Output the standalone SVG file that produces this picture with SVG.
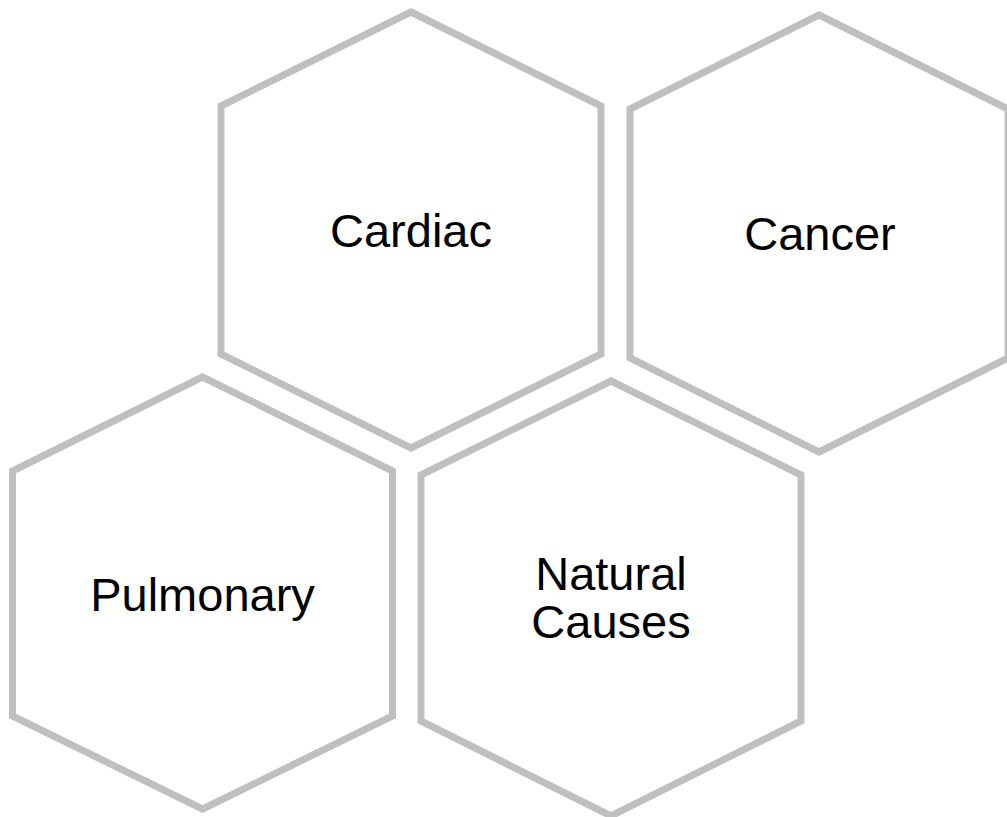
<svg xmlns="http://www.w3.org/2000/svg" width="1007" height="817" viewBox="0 0 1007 817">
<style>
.hex{fill:none;stroke:#BFBFBF;stroke-width:7;stroke-linejoin:miter}
.lbl{font-family:"Liberation Sans",Arial,sans-serif;font-size:47px;fill:#000;text-anchor:middle}
</style>
<rect width="1007" height="817" fill="#fff"/>
<g id="node-cardiac">
<polygon class="hex" points="411,12 601,106 601,354 411,448 221,354 221,106"/>
<text class="lbl" x="411" y="247">Cardiac</text>
</g>
<g id="node-cancer">
<polygon class="hex" points="819,15 1008,109 1008,358 819,452 630,358 630,109"/>
<text class="lbl" x="820" y="250">Cancer</text>
</g>
<g id="node-pulmonary">
<polygon class="hex" points="202.5,377 392.5,471 392.5,716 202.5,809 12.5,716 12.5,471"/>
<text class="lbl" x="202.5" y="611">Pulmonary</text>
</g>
<g id="node-natural">
<polygon class="hex" points="611,381 801,475 801,721 611,816 421,721 421,475"/>
<text class="lbl" x="611" y="590"><tspan x="611">Natural</tspan><tspan x="611" dy="48">Causes</tspan></text>
</g>
<g id="connectors"></g>
</svg>
